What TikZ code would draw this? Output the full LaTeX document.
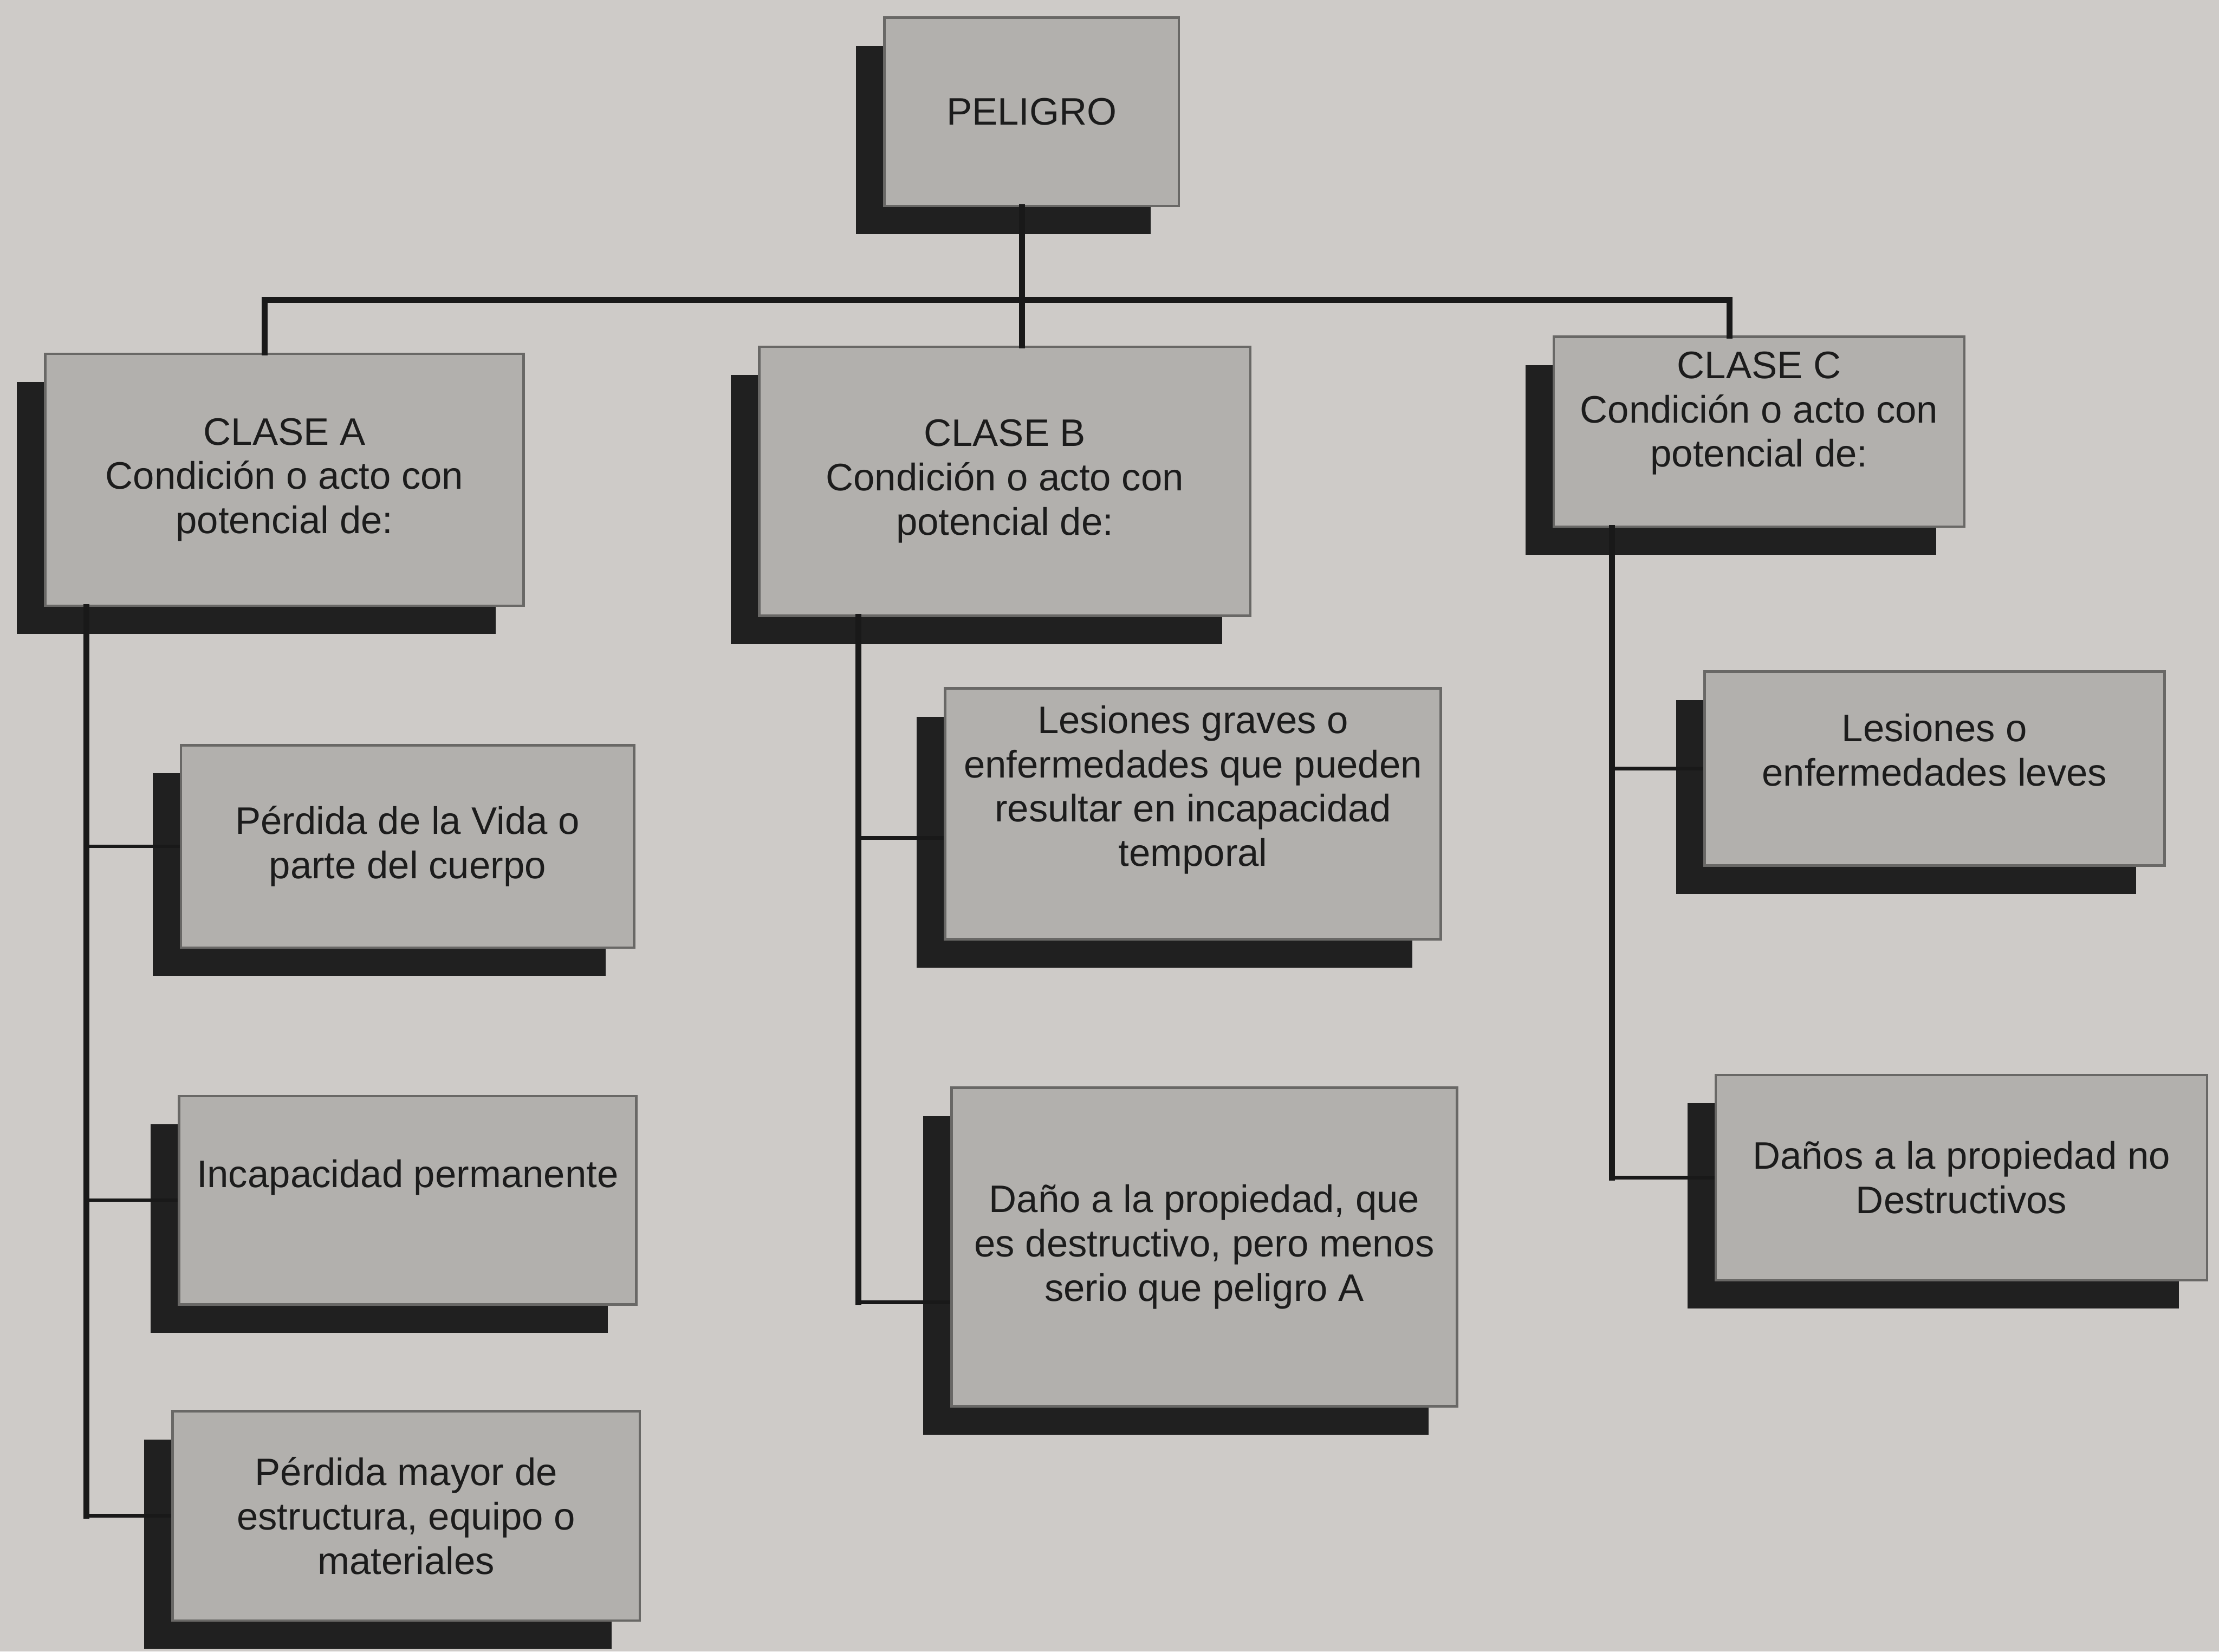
\documentclass[tikz,border=0pt]{standalone}
\usepackage{fontspec}
\setmainfont{Liberation Sans}
\usepackage{xcolor}
\usetikzlibrary{shadows}

\definecolor{papel}{RGB}{206,203,200}
\definecolor{relleno}{RGB}{178,176,173}
\definecolor{borde}{RGB}{105,104,102}
\definecolor{sombra}{RGB}{32,32,32}
\definecolor{linea}{RGB}{25,25,25}
\definecolor{tinta}{RGB}{28,28,28}

\begin{document}
\begin{tikzpicture}[x=0.01cm, y=-0.01cm,
			font=\fontsize{7.7}{8.9}\selectfont,
			caja/.style={rectangle, draw=borde, line width=0.5pt, fill=relleno,
					align=center, text=tinta, inner sep=0pt,
					drop shadow={shadow xshift=-0.2cm, shadow yshift=-0.2cm,
							fill=sombra, opacity=1}},
			rotulo/.style={align=center, text=tinta},
			tronco/.style={draw=linea, line width=1.2pt, line cap=rect},
			rama/.style={draw=linea, line width=0.7pt}
		]
		% papel
		\fill[papel] (0,0) rectangle (1568,1167);
		\useasboundingbox (0,0) rectangle (1568,1167);

		% peligro y clases
		\node[caja, minimum width=2.08cm, minimum height=1.33cm] (peligro) at (729,79) {PELIGRO};
		\node[caja, minimum width=3.38cm, minimum height=1.78cm] (claseA) at (201,339) {CLASE A\\Condición o acto con\\potencial de:};
		\node[caja, minimum width=3.47cm, minimum height=1.90cm] (claseB) at (710,340) {CLASE B\\Condición o acto con\\potencial de:};
		\node[caja, minimum width=2.90cm, minimum height=1.34cm,
			label={[rotulo, yshift=0.13cm]center:{CLASE C\\Condición o acto con\\potencial de:}}] (claseC) at (1243,305) {};

		% clase A
		\node[caja, minimum width=3.20cm, minimum height=1.43cm] (vida) at (288,598) {Pérdida de la Vida o\\parte del cuerpo};
		\node[caja, minimum width=3.23cm, minimum height=1.47cm,
			label={[rotulo, yshift=0.16cm]center:{Incapacidad permanente}}] (incap) at (288,848) {};
		\node[caja, minimum width=3.30cm, minimum height=1.48cm] (mayor) at (287,1071) {Pérdida mayor de\\estructura, equipo o\\materiales};

		% clase B
		\node[caja, minimum width=3.50cm, minimum height=1.77cm,
			label={[rotulo, yshift=0.17cm]center:{Lesiones graves o\\enfermedades que pueden\\resultar en incapacidad\\temporal}}] (graves) at (843,575) {};
		\node[caja, minimum width=3.57cm, minimum height=2.25cm] (dano) at (851,881) {Daño a la propiedad, que\\es destructivo, pero menos\\serio que peligro A};

		% clase C
		\node[caja, minimum width=3.25cm, minimum height=1.37cm,
			label={[rotulo, yshift=0.13cm]center:{Lesiones o\\enfermedades leves}}] (leves) at (1367,543) {};
		\node[caja, minimum width=3.47cm, minimum height=1.45cm] (nodest) at (1386,832) {Daños a la propiedad no\\Destructivos};

		% Conexiones de arriba
		\coordinate (barraA) at (187,212);
		\coordinate (barraC) at (1222,212);
		\coordinate (bajada) at ([xshift=-0.07cm]peligro.south);
		\draw[tronco] (barraA) -- (barraC);
		\draw[tronco] (bajada) -- (bajada |- claseB.north);
		\draw[tronco] (barraA) -- (barraA |- claseA.north);
		\draw[tronco] (barraC) -- (barraC |- claseC.north);

		% ramas clase A
		\coordinate (tA) at ([xshift=0.30cm]claseA.south west);
		\draw[tronco] (tA) -- (tA |- mayor.west);
		\foreach \h in {vida,incap,mayor}
		\draw[rama] (tA |- \h.west) -- (\h.west);

		% ramas clase B
		\coordinate (tB) at ([xshift=0.71cm]claseB.south west);
		\coordinate (eG) at ([yshift=-0.17cm]graves.west);
		\coordinate (eD) at ([yshift=-0.39cm]dano.west);
		\draw[tronco] (tB) -- (tB |- eD);
		\draw[rama] (tB |- eG) -- (eG);
		\draw[rama] (tB |- eD) -- (eD);

		% ramas clase C
		\coordinate (tC) at ([xshift=0.42cm]claseC.south west);
		\draw[tronco] (tC) -- (tC |- nodest.west);
		\foreach \h in {leves,nodest}
		\draw[rama] (tC |- \h.west) -- (\h.west);
	\end{tikzpicture}
\end{document}
